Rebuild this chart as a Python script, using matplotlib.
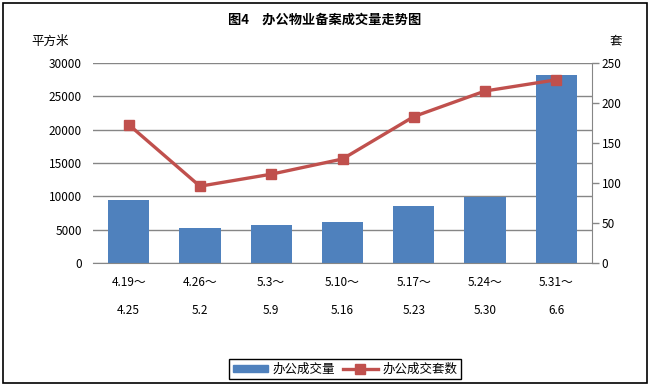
import matplotlib.pyplot as plt
import numpy as np
from matplotlib.patches import Rectangle
from matplotlib.lines import Line2D

plt.rcParams['font.family'] = ['Noto Sans CJK SC', 'DejaVu Sans']

weeks_start = ['4.19～', '4.26～', '5.3～', '5.10～', '5.17～', '5.24～', '5.31～']
weeks_end = ['4.25', '5.2', '5.9', '5.16', '5.23', '5.30', '6.6']
area = [9450, 5250, 5700, 6150, 8560, 9860, 28150]   # 办公成交量 (平方米)
units = [173, 96, 111, 130, 183, 215, 229]           # 办公成交套数 (套)

bar_color = '#4F81BD'
line_color = '#C0504D'
grid_color = '#868686'

fig = plt.figure(figsize=(6.51, 3.88), dpi=100)
ax = fig.add_axes([93 / 651, 1 - 263 / 388, 499 / 651, 200 / 388])
ax2 = ax.twinx()

x = np.arange(len(area))
ax.bar(x, area, width=0.58, color=bar_color, zorder=2)
ax.set_xlim(-0.5, len(area) - 0.5)
ax.set_ylim(0, 30000)
ax.set_yticks(np.arange(0, 30001, 5000))
ax.yaxis.grid(True, color=grid_color, linewidth=1)
ax.set_axisbelow(True)
ax.tick_params(axis='y', length=0, pad=8, labelsize=8.5)
ax.tick_params(axis='x', length=0, pad=9, labelsize=8.5)
ax.set_xticks(x)
ax.set_xticklabels([a + '\n' + b for a, b in zip(weeks_start, weeks_end)])
for t in ax.get_xticklabels():
    t.set_linespacing(2.5)

for s in ['top', 'left', 'right']:
    ax.spines[s].set_visible(False)
ax.spines['bottom'].set_color(grid_color)

ax2.plot(x, units, color=line_color, linewidth=2.4, marker='s', markersize=7,
         zorder=3)
ax2.set_ylim(0, 250)
ax2.set_yticks(np.arange(0, 251, 50))
ax2.tick_params(axis='y', length=5, width=1, color=grid_color, pad=2, labelsize=8.5)
for s in ['top', 'left', 'bottom']:
    ax2.spines[s].set_visible(False)
ax2.spines['right'].set_color(grid_color)

fig.text(325 / 651, 1 - 20 / 388, '图4　办公物业备案成交量走势图', ha='center', va='center',
         fontsize=9.5, fontweight='bold')
fig.text(50 / 651, 1 - 41 / 388, '平方米', ha='center', va='center', fontsize=9)
fig.text(616 / 651, 1 - 41 / 388, '套', ha='center', va='center', fontsize=9)

handles = [Rectangle((0, 0), 1, 1, color=bar_color),
           Line2D([], [], color=line_color, linewidth=2.4, marker='s', markersize=7)]
leg = fig.legend(handles, ['办公成交量', '办公成交套数'], loc='center',
                 bbox_to_anchor=(345 / 651, 1 - 369 / 388), ncol=2, fontsize=9,
                 frameon=True, fancybox=False, edgecolor='black', framealpha=1,
                 handlelength=2.8, handleheight=0.5, columnspacing=0.6,
                 handletextpad=0.4, borderpad=0.25)
leg.get_frame().set_linewidth(1)

fig.patches.append(Rectangle((3 / 651, 5 / 388), 644 / 651, 380 / 388,
                             transform=fig.transFigure, fill=False,
                             edgecolor='black', linewidth=1.2))

fig.savefig('out.png', dpi=100)
